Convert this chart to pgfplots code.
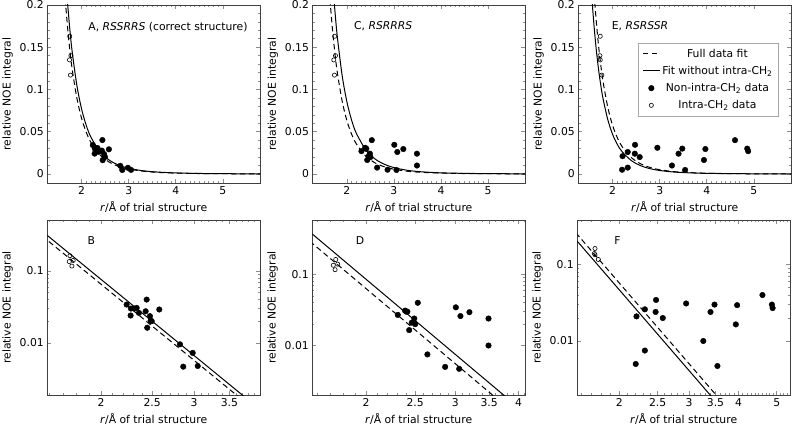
\documentclass[border=0pt]{standalone}
\usepackage{fontspec}
\setmainfont{DejaVu Sans}
\usepackage{pgfplots}
\usepackage{pgfplotstable}
\pgfplotsset{compat=1.18}

% r (Angstrom) and relative NOE integral
\pgfplotstableread{
r I
2.237 0.0342
2.279 0.0301
2.313 0.0301
2.337 0.0307
2.276 0.0241
2.360 0.0262
2.430 0.0276
2.441 0.0401
2.476 0.0236
2.495 0.0201
2.447 0.0163
2.484 0.0205
2.579 0.0292
2.822 0.0096
2.983 0.0073
2.863 0.0047
3.049 0.0048
}\nonAB
\pgfplotstableread{
r I
1.747 0.163
1.772 0.140
1.742 0.135
1.762 0.117
}\intraAB
\pgfplotstableread{
r I
2.310 0.027
2.388 0.031
2.400 0.030
2.413 0.030
2.433 0.0165
2.462 0.021
2.490 0.024
2.500 0.020
2.530 0.040
2.643 0.0075
2.865 0.005
3.008 0.0345
3.054 0.0047
3.072 0.026
3.200 0.0295
3.490 0.024
3.490 0.010
}\nonCD
\pgfplotstableread{
r I
1.742 0.163
1.758 0.140
1.723 0.135
1.737 0.117
}\intraCD
\pgfplotstableread{
r I
2.20 0.005
2.21 0.021
2.32 0.026
2.32 0.0075
2.476 0.0345
2.47 0.024
2.575 0.020
2.95 0.031
3.26 0.010
3.40 0.024
3.48 0.030
3.54 0.0047
3.94 0.0165
3.97 0.0295
4.60 0.040
4.86 0.030
4.88 0.027
}\nonEF
\pgfplotstableread{
r I
1.736 0.163
1.729 0.140
1.736 0.135
1.770 0.117
}\intraEF

% fitted curves: r, full data fit, fit without intra-CH2
\pgfplotstableread{
r full noin
1.55 0.3029 0.3534
1.6 0.2503 0.2921
1.65 0.2081 0.2428
1.7 0.1740 0.2030
1.75 0.1462 0.1706
1.8 0.1235 0.1441
1.9 0.0893 0.1042
2.0 0.0656 0.0766
2.1 0.0490 0.0571
2.2 0.0370 0.0432
2.4 0.0220 0.0256
2.6 0.0136 0.0159
2.8 0.0087 0.0102
3.0 0.0058 0.0067
3.3 0.0033 0.0038
3.6 0.0019 0.0023
4.0 0.0010 0.0012
4.5 0.0005 0.0006
5.0 0.0003 0.0003
5.8 0.0001 0.0001
}\fitAB
\pgfplotstableread{
r full noin
1.55 0.2921 0.3952
1.6 0.2414 0.3266
1.65 0.2007 0.2716
1.7 0.1678 0.2270
1.75 0.1410 0.1908
1.8 0.1191 0.1611
1.9 0.0861 0.1165
2.0 0.0633 0.0856
2.1 0.0472 0.0639
2.2 0.0357 0.0483
2.4 0.0212 0.0287
2.6 0.0131 0.0177
2.8 0.0084 0.0114
3.0 0.0056 0.0075
3.3 0.0031 0.0042
3.6 0.0019 0.0025
4.0 0.0010 0.0013
4.5 0.0005 0.0007
5.0 0.0003 0.0004
5.8 0.0001 0.0001
}\fitCD
\pgfplotstableread{
r full noin
1.45 0.3949 0.3217
1.5 0.3222 0.2625
1.55 0.2647 0.2156
1.6 0.2187 0.1782
1.65 0.1819 0.1482
1.7 0.1520 0.1239
1.75 0.1278 0.1041
1.8 0.1079 0.0879
1.9 0.0780 0.0636
2.0 0.0573 0.0467
2.1 0.0428 0.0349
2.2 0.0324 0.0264
2.4 0.0192 0.0157
2.6 0.0119 0.0097
2.8 0.0076 0.0062
3.0 0.0050 0.0041
3.3 0.0028 0.0023
3.6 0.0017 0.0014
4.0 0.0009 0.0007
4.5 0.0004 0.0004
5.0 0.0002 0.0002
5.8 0.0001 0.0001
}\fitEF
\pgfplotstableread{
r full noin
1.5 0.3687 0.4302
4.2 0.000765 0.000893
}\lineB
\pgfplotstableread{
r full noin
1.5 0.3555 0.4811
4.2 0.000738 0.000998
}\lineD
\pgfplotstableread{
r full noin
1.5 0.3222 0.2625
5.5 0.000133 0.000108
}\lineF

\newcommand\chfont{\fontsize{10.8bp}{13bp}\selectfont}
\pgfplotsset{
  noe/.style={
    scale only axis, anchor=south west, width=212.7bp,
    axis line style={black!75, line width=0.8bp},
    tick style={black!45, line width=0.6bp},
    tick align=inside,
    major tick length=4bp, minor tick length=2.2bp,
    /pgf/number format/assume math mode=true,
    tick label style={font=\chfont},
    label style={font=\chfont},
    ylabel={relative NOE integral},
    xlabel={\textit{r}/Å of trial structure},
  },
  toprow/.style={noe, height=178bp, xmin=1.27, xmax=5.79, ymin=-0.0107, ymax=0.2,
    xtick={2,3,4,5}, minor x tick num=9,
    ytick={0,0.05,0.1,0.15,0.2}, yticklabels={0,0.05,0.1,0.15,0.2},
    minor y tick num=4, scaled y ticks=false},
  botrow/.style={noe, height=175bp,
    ytick={0.01,0.1}, yticklabels={0.01,0.1}},
  fullfit/.style={black, line width=1bp, dash pattern=on 5.5bp off 3.5bp, no marks},
  nointra/.style={black, line width=1bp, no marks},
  nondata/.style={only marks, mark=*, mark size=2.8bp, black},
  intradata/.style={only marks, mark=o, mark size=2.1bp, black, mark options={line width=0.6bp}},
}

\begin{document}
\begin{tikzpicture}[font=\chfont]
\path[use as bounding box] (0,0) rectangle (794bp,427bp);

% A
\begin{axis}[toprow, at={(47.3bp,244bp)}]
  \addplot[fullfit, smooth] table[x=r, y=full] {\fitAB};
  \addplot[nointra, smooth] table[x=r, y=noin] {\fitAB};
  \addplot[nondata] table[x=r, y=I] {\nonAB};
  \addplot[intradata] table[x=r, y=I] {\intraAB};
  \node[anchor=west, font=\chfont] at (rel axis cs:0.177,0.878) {A, \textit{RSSRRS} (correct structure)};
\end{axis}

% C
\begin{axis}[toprow, at={(312.5bp,244bp)}]
  \addplot[fullfit, smooth] table[x=r, y=full] {\fitCD};
  \addplot[nointra, smooth] table[x=r, y=noin] {\fitCD};
  \addplot[nondata] table[x=r, y=I] {\nonCD};
  \addplot[intradata] table[x=r, y=I] {\intraCD};
  \node[anchor=west, font=\chfont] at (rel axis cs:0.179,0.882) {C, \textit{RSRRRS}};
\end{axis}

% E
\begin{axis}[toprow, at={(578.3bp,244bp)},
    legend style={at={(0.942,0.788)}, anchor=north east, draw=black!35,
      font=\chfont, cells={anchor=center}, row sep=3.5bp, inner sep=4bp}]
  \addplot[fullfit, smooth] table[x=r, y=full] {\fitEF};
  \addlegendentry{Full data fit}
  \addplot[nointra, smooth] table[x=r, y=noin] {\fitEF};
  \addlegendentry{Fit without intra-CH\textsubscript{2}}
  \addplot[nondata] table[x=r, y=I] {\nonEF};
  \addlegendentry{Non-intra-CH\textsubscript{2} data}
  \addplot[intradata] table[x=r, y=I] {\intraEF};
  \addlegendentry{Intra-CH\textsubscript{2} data}
  \node[anchor=west, font=\chfont] at (rel axis cs:0.141,0.882) {E, \textit{RSRSSR}};
\end{axis}

% B
\begin{axis}[botrow, xmode=log, ymode=log, at={(47.3bp,32bp)},
    xmin=1.583, xmax=4.0, ymin=0.0019, ymax=0.51,
    xtick={2,2.5,3,3.5}, xticklabels={2,2.5,3,3.5},
    minor xtick={1.6,1.7,1.8,1.9,2.1,2.2,2.3,2.4,2.6,2.7,2.8,2.9,3.1,3.2,3.3,3.4,3.6,3.7,3.8,3.9}]
  \addplot[fullfit] table[x=r, y=full] {\lineB};
  \addplot[nointra] table[x=r, y=noin] {\lineB};
  \addplot[nondata] table[x=r, y=I] {\nonAB};
  \addplot[intradata] table[x=r, y=I] {\intraAB};
  \node[anchor=west, font=\chfont] at (rel axis cs:0.173,0.882) {B};
\end{axis}

% D
\begin{axis}[botrow, xmode=log, ymode=log, at={(312.3bp,32bp)},
    xmin=1.566, xmax=4.12, ymin=0.00201, ymax=0.586,
    xtick={2,2.5,3,3.5,4}, xticklabels={2,2.5,3,3.5,4},
    minor xtick={1.6,1.7,1.8,1.9,2.1,2.2,2.3,2.4,2.6,2.7,2.8,2.9,3.1,3.2,3.3,3.4,3.6,3.7,3.8,3.9,4.1}]
  \addplot[fullfit] table[x=r, y=full] {\lineD};
  \addplot[nointra] table[x=r, y=noin] {\lineD};
  \addplot[nondata] table[x=r, y=I] {\nonCD};
  \addplot[intradata] table[x=r, y=I] {\intraCD};
  \node[anchor=west, font=\chfont] at (rel axis cs:0.188,0.882) {D};
\end{axis}

% F
\begin{axis}[botrow, xmode=log, ymode=log, at={(577.3bp,32bp)},
    xmin=1.566, xmax=5.40, ymin=0.00196, ymax=0.385,
    xtick={2,2.5,3,3.5,4,5}, xticklabels={2,2.5,3,3.5,4,5},
    minor xtick={1.6,1.7,1.8,1.9,2.1,2.2,2.3,2.4,2.6,2.7,2.8,2.9,3.1,3.2,3.3,3.4,3.6,3.7,3.8,3.9,4.1,4.2,4.3,4.4,4.5,4.6,4.7,4.8,4.9,5.1,5.2,5.3}]
  \addplot[fullfit] table[x=r, y=full] {\lineF};
  \addplot[nointra] table[x=r, y=noin] {\lineF};
  \addplot[nondata] table[x=r, y=I] {\nonEF};
  \addplot[intradata] table[x=r, y=I] {\intraEF};
  \node[anchor=west, font=\chfont] at (rel axis cs:0.158,0.882) {F};
\end{axis}
\end{tikzpicture}
\end{document}
